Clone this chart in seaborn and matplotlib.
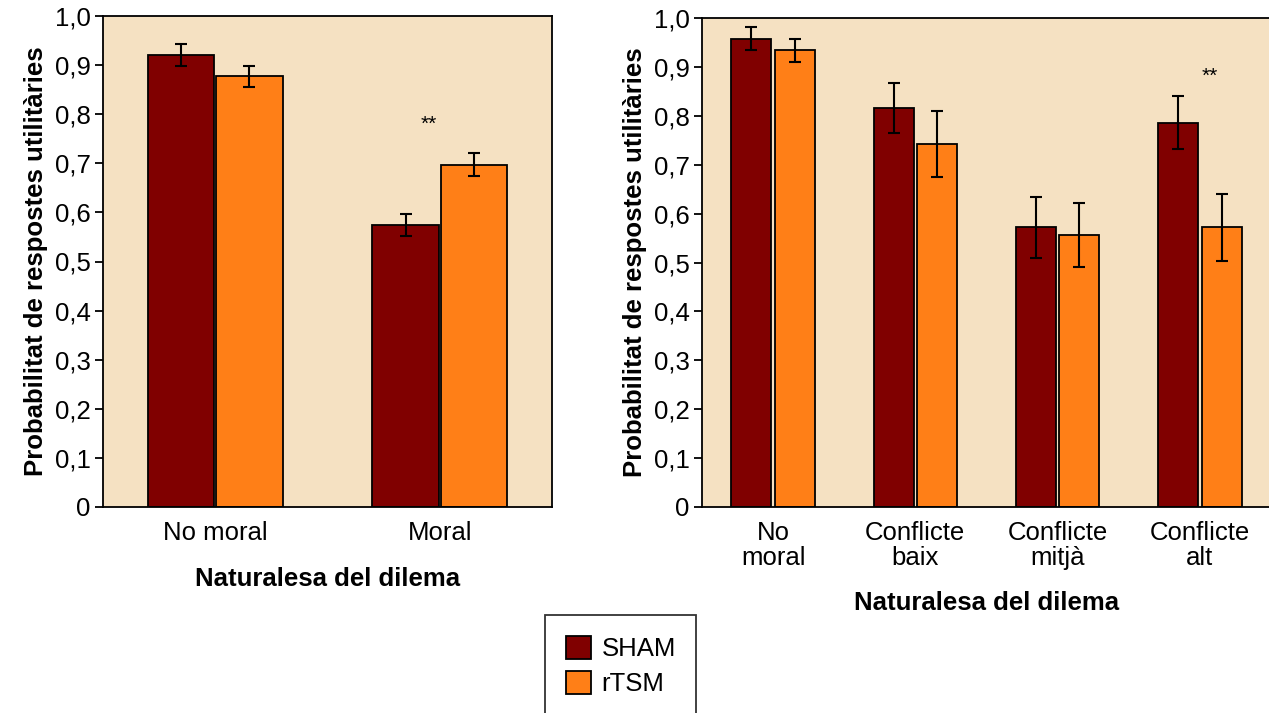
import numpy as np
import pandas as pd
import matplotlib
matplotlib.use("Agg")
import matplotlib.pyplot as plt
import seaborn as sns
from matplotlib.patches import Patch

sns.set_theme(style="white")
plt.rcParams['font.family'] = ['Liberation Sans', 'DejaVu Sans']
plt.rcParams['text.color'] = 'black'
plt.rcParams['axes.labelcolor'] = 'black'
plt.rcParams['xtick.color'] = 'black'
plt.rcParams['ytick.color'] = 'black'

# ---- data ----
groups = ["SHAM", "rTSM"]
left_cats = ["No moral", "Moral"]
left_sham = [0.920, 0.574]
left_rtsm = [0.877, 0.697]
left_sham_err = [0.022, 0.022]
left_rtsm_err = [0.022, 0.023]

right_cats = ["No\nmoral", "Conflicte\nbaix", "Conflicte\nmitjà", "Conflicte\nalt"]
right_sham = [0.958, 0.816, 0.572, 0.786]
right_rtsm = [0.934, 0.742, 0.556, 0.572]
right_sham_err = [0.023, 0.051, 0.062, 0.054]
right_rtsm_err = [0.024, 0.068, 0.066, 0.068]

yticks = [0, 0.1, 0.2, 0.3, 0.4, 0.5, 0.6, 0.7, 0.8, 0.9, 1.0]
ytick_labels = ["0", "0,1", "0,2", "0,3", "0,4", "0,5", "0,6", "0,7", "0,8", "0,9", "1,0"]

colors = {"SHAM": "#800000", "rTSM": "#FF7F17"}
bg = "#F5E1C2"

def make_df(cats, s, r):
    rows = []
    for c, v in zip(cats, s):
        rows.append({"cat": c, "group": "SHAM", "val": v})
    for c, v in zip(cats, r):
        rows.append({"cat": c, "group": "rTSM", "val": v})
    return pd.DataFrame(rows)

fig = plt.figure(figsize=(12.69, 7.13), dpi=100)
ax1 = fig.add_axes([103/1269, 1-507/713, (552-103)/1269, (507-16)/713])
ax2 = fig.add_axes([702/1269, 1-507/713, (1271-702)/1269, (507-18)/713])

FS = 18.5

def draw(ax, cats, s, r, se, re, gap, xlabelpad):
    df = make_df(cats, s, r)
    sns.barplot(data=df, x="cat", y="val", hue="group", order=cats,
                hue_order=groups, palette=colors, width=0.61, gap=gap,
                edgecolor="black", linewidth=1.3, errorbar=None,
                legend=False, ax=ax, saturation=1)
    n = len(cats)
    bars = [p for p in ax.patches]
    errs = list(se) + list(re)
    for p, e in zip(bars, errs):
        xc = p.get_x() + p.get_width()/2
        ax.errorbar(xc, p.get_height(), yerr=e, color="black",
                    capsize=4.5, elinewidth=1.5, capthick=1.5, zorder=5)
    ax.set_facecolor(bg)
    ax.set_ylim(0, 1.0)
    ax.set_xlim(-0.5, n - 0.5)
    ax.set_yticks(yticks)
    ax.set_yticklabels(ytick_labels, fontsize=FS)
    ax.set_xticks(range(n))
    ax.set_xticklabels(cats, fontsize=FS, linespacing=1.08)
    ax.set_xticks(np.arange(-0.5, n, 1.0), minor=True)
    ax.tick_params(axis="x", which="major", length=0, pad=10)
    ax.tick_params(axis="x", which="minor", length=6, width=1.3, direction="out", color="black")
    ax.tick_params(axis="y", length=6, width=1.3, direction="out", color="black", pad=3, left=True)
    for sp in ax.spines.values():
        sp.set_color("black")
        sp.set_linewidth(1.3)
    ax.set_ylabel("Probabilitat de respostes utilitàries", fontsize=FS, fontweight="bold", labelpad=5)
    ax.set_xlabel("Naturalesa del dilema", fontsize=FS, fontweight="bold", labelpad=xlabelpad)

draw(ax1, left_cats, left_sham, left_rtsm, left_sham_err, left_rtsm_err, 0.035, 16)
draw(ax2, right_cats, right_sham, right_rtsm, right_sham_err, right_rtsm_err, 0.08, 15)

ax1.text(0.95, 0.78, "**", ha="center", va="center", fontsize=15)
ax2.text(3.07, 0.88, "**", ha="center", va="center", fontsize=15)

handles = [Patch(facecolor=colors[g], edgecolor="black", linewidth=1.3, label=g) for g in groups]
leg = fig.legend(handles=handles, loc="upper left",
                 bbox_to_anchor=(545/1269, 1-615/713), fontsize=FS,
                 frameon=True, fancybox=False, edgecolor="black",
                 handlelength=1.0, handleheight=1.0, handletextpad=0.4,
                 borderpad=0.8, labelspacing=0.4, borderaxespad=0)
leg.get_frame().set_linewidth(1.3)

fig.savefig("out.png", dpi=100, facecolor="white")
